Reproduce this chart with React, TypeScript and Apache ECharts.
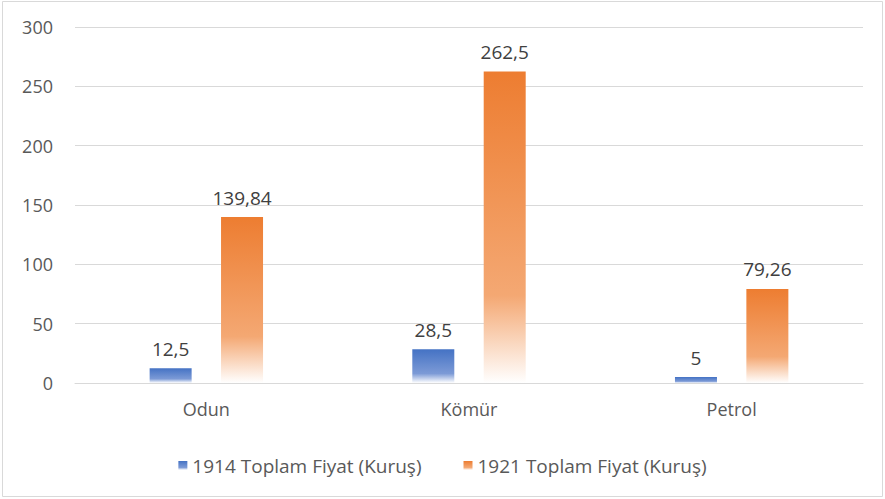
import React, { useEffect, useRef } from "react";
import * as echarts from "echarts";

const categories = ["Odun", "Kömür", "Petrol"];
const seriesNames = ["1914 Toplam Fiyat (Kuruş)", "1921 Toplam Fiyat (Kuruş)"];
const values1914 = [12.5, 28.5, 5];
const values1921 = [139.84, 262.5, 79.26];
const yTicks = { min: 0, max: 300, interval: 50 };

const fmt = (v: number) => String(v).replace(".", ",");

export default function App() {
  const ref = useRef<HTMLDivElement>(null);
  useEffect(() => {
    if (!ref.current) return;
    const chart = echarts.init(ref.current, undefined, { renderer: "svg" });
    const font = "'Open Sans', 'Liberation Sans', sans-serif";
    const grad = (top: string, mid: string) =>
      new echarts.graphic.LinearGradient(0, 0, 0, 1, [
        { offset: 0, color: top },
        { offset: 0.72, color: mid },
        { offset: 1, color: "#ffffff" },
      ]);
    const label = {
      show: true,
      position: "top",
      distance: 10,
      fontSize: 19,
      color: "#404040",
      fontFamily: font,
      formatter: (p: any) => fmt(p.value),
    };
    chart.setOption({
      animation: false,
      backgroundColor: "#ffffff",
      textStyle: { fontFamily: font },
      graphic: [
        {
          type: "rect",
          shape: { x: 2.5, y: 1.5, width: 880, height: 495 },
          style: { fill: "none", stroke: "#d9d9d9", lineWidth: 1 },
          silent: true,
        },
      ],
      grid: { left: 75, right: 22, top: 27, bottom: 116 },
      legend: {
        top: 451,
        left: "center",
        itemWidth: 9,
        itemHeight: 9,
        itemGap: 42,
        icon: "rect",
        textStyle: { fontSize: 19, color: "#595959", fontFamily: font },
        data: seriesNames,
      },
      xAxis: {
        type: "category",
        data: categories,
        axisLine: { lineStyle: { color: "#d9d9d9", width: 1 } },
        axisTick: { show: false },
        axisLabel: { fontSize: 18, color: "#595959", margin: 17, fontFamily: font },
      },
      yAxis: {
        type: "value",
        min: yTicks.min,
        max: yTicks.max,
        interval: yTicks.interval,
        axisLine: { show: false },
        axisTick: { show: false },
        splitLine: { lineStyle: { color: "#d9d9d9", width: 1 } },
        axisLabel: { fontSize: 18, color: "#595959", margin: 22, fontFamily: font },
      },
      series: [
        {
          name: seriesNames[0],
          type: "bar",
          data: values1914,
          barWidth: 42,
          barGap: "70%",
          itemStyle: { color: grad("#4472c4", "#7c9ad6") },
          label,
        },
        {
          name: seriesNames[1],
          type: "bar",
          data: values1921,
          barWidth: 42,
          itemStyle: { color: grad("#ed7d31", "#f4a873") },
          label,
        },
      ],
    });
    return () => chart.dispose();
  }, []);
  return (
    <div
      ref={ref}
      style={{ position: "absolute", left: 0, top: 0, width: 885, height: 499 }}
    />
  );
}
